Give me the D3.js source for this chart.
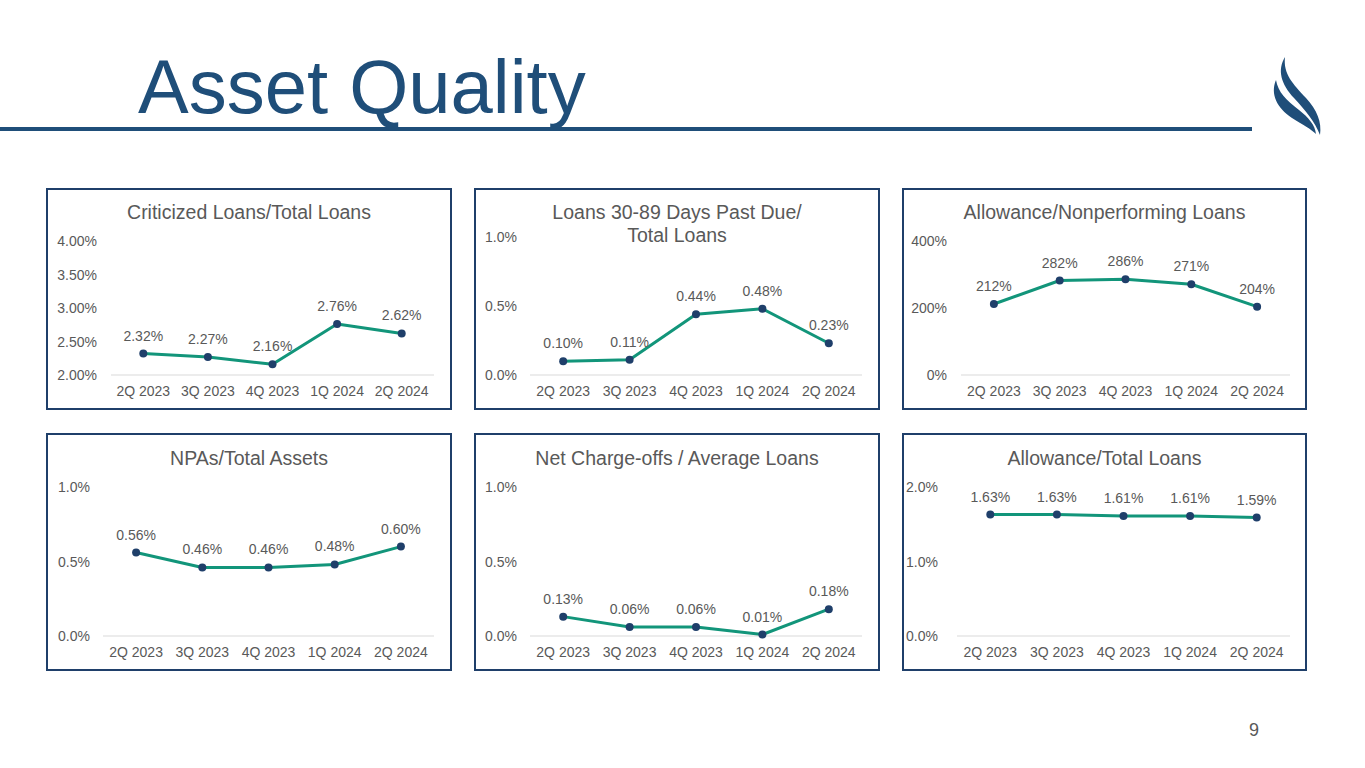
<!DOCTYPE html>
<html><head><meta charset="utf-8">
<script src="https://cdn.jsdelivr.net/npm/d3@7"></script>
<style>body{margin:0;background:#fff;}svg{display:block;font-family:"Liberation Sans",Arial,sans-serif;}</style>
</head><body>
<svg id="c" width="1365" height="768"></svg>
<script>
const quarters = ["2Q 2023","3Q 2023","4Q 2023","1Q 2024","2Q 2024"];
const criticizedLoans = [2.32,2.27,2.16,2.76,2.62];
const pastDueLoans = [0.10,0.11,0.44,0.48,0.23];
const allowanceNPL = [212,282,286,271,204];
const npaAssets = [0.56,0.46,0.46,0.48,0.60];
const netChargeOffs = [0.13,0.06,0.06,0.01,0.18];
const allowanceTotal = [1.63,1.63,1.61,1.61,1.59];
const criticizedTicks = [2.0,2.5,3.0,3.5,4.0];
const pastDueTicks = [0,0.5,1.0];
const allowanceNPLTicks = [0,200,400];
const npaTicks = [0,0.5,1.0];
const chargeOffTicks = [0,0.5,1.0];
const allowanceTotalTicks = [0,1.0,2.0];
const titles = ["Criticized Loans/Total Loans",["Loans 30-89 Days Past Due/","Total Loans"],"Allowance/Nonperforming Loans","NPAs/Total Assets","Net Charge-offs / Average Loans","Allowance/Total Loans"];

const svg = d3.select("#c");
const navy = "#1F4E79", border = "#1F3F6A", green = "#12957A", marker = "#1F3F6A", grey = "#595959";

// Title
svg.append("text").attr("x",138).attr("y",113).attr("font-size",76).attr("fill",navy).text("Asset Quality");
svg.append("rect").attr("x",0).attr("y",127).attr("width",1252).attr("height",4).attr("fill",navy);
// logo
svg.append("path").attr("fill",navy)
  .attr("d","M1285,57 C1277,70 1281,84 1294,98 C1306,111 1315,122 1320,135 C1322,122 1317,110 1306,98 C1293,84 1283,74 1285,57 Z");
svg.append("path").attr("fill",navy)
  .attr("d","M1276,80 C1270,94 1277,108 1292,118 C1303,125 1311,129 1316,134 C1315,125 1309,118 1299,110 C1286,100 1278,92 1276,80 Z");
svg.append("text").attr("x",1254).attr("y",736).attr("font-size",18).attr("fill",grey).attr("text-anchor","middle").text("9");

const panels = [
 {box:[47,189,404,220], xr:[111,434], yr:[375,241], dom:[2,4], ticks:criticizedTicks, fmt:d3.format(".2f"), tx:97, vals:criticizedLoans, title:titles[0], ty:219},
 {box:[475,189,404,220], xr:[530,862], yr:[375,237], dom:[0,1], ticks:pastDueTicks, fmt:d3.format(".1f"), tx:517, vals:pastDueLoans, title:titles[1], ty:219},
 {box:[903,189,403,220], xr:[961,1290], yr:[375,241], dom:[0,400], ticks:allowanceNPLTicks, fmt:d3.format(".0f"), tx:947, vals:allowanceNPL, title:titles[2], ty:219, lf:d3.format(".0f")},
 {box:[47,434,404,236], xr:[103,434], yr:[636,487], dom:[0,1], ticks:npaTicks, fmt:d3.format(".1f"), tx:90, vals:npaAssets, title:titles[3], ty:465},
 {box:[475,434,404,236], xr:[530,862], yr:[636,487], dom:[0,1], ticks:chargeOffTicks, fmt:d3.format(".1f"), tx:517, vals:netChargeOffs, title:titles[4], ty:465},
 {box:[903,434,403,236], xr:[957,1290], yr:[636,487], dom:[0,2], ticks:allowanceTotalTicks, fmt:d3.format(".1f"), tx:938, vals:allowanceTotal, title:titles[5], ty:465}
];

panels.forEach(p=>{
  const g = svg.append("g");
  const [bx,by,bw,bh] = p.box;
  g.append("rect").attr("x",bx).attr("y",by).attr("width",bw).attr("height",bh)
    .attr("fill","#fff").attr("stroke",border).attr("stroke-width",2);
  const t = g.append("text").attr("x",bx+bw/2).attr("y",p.ty).attr("text-anchor","middle")
    .attr("font-size",19.5).attr("fill",grey);
  const lines = Array.isArray(p.title)?p.title:[p.title];
  lines.forEach((l,i)=>t.append("tspan").attr("x",bx+bw/2).attr("dy",i?23:0).text(l));
  const x = d3.scaleBand().domain(quarters).range(p.xr);
  const y = d3.scaleLinear().domain(p.dom).range(p.yr);
  // baseline
  g.append("line").attr("x1",p.xr[0]).attr("x2",p.xr[1]).attr("y1",y(p.dom[0])).attr("y2",y(p.dom[0]))
    .attr("stroke","#D9D9D9").attr("stroke-width",1);
  // y ticks
  g.selectAll(".yt").data(p.ticks).join("text").attr("x",p.tx).attr("y",d=>y(d)+5)
    .attr("text-anchor","end").attr("font-size",14).attr("fill",grey).text(d=>p.fmt(d)+"%");
  // x labels
  g.selectAll(".xt").data(quarters).join("text").attr("x",d=>x(d)+x.bandwidth()/2).attr("y",y(p.dom[0])+21)
    .attr("text-anchor","middle").attr("font-size",14).attr("fill",grey).text(d=>d);
  const pts = quarters.map((q,i)=>[x(q)+x.bandwidth()/2, y(p.vals[i]), p.vals[i]]);
  g.append("path").attr("d",d3.line()(pts.map(d=>[d[0],d[1]]))).attr("fill","none")
    .attr("stroke",green).attr("stroke-width",3).attr("stroke-linejoin","round");
  g.selectAll("circle").data(pts).join("circle").attr("cx",d=>d[0]).attr("cy",d=>d[1]).attr("r",4).attr("fill",marker);
  const lf = p.lf || d3.format(".2f");
  g.selectAll(".lb").data(pts).join("text").attr("x",d=>d[0]).attr("y",d=>d[1]-13)
    .attr("text-anchor","middle").attr("font-size",14).attr("fill",grey).text(d=>lf(d[2])+"%");
});
</script>
</body></html>
